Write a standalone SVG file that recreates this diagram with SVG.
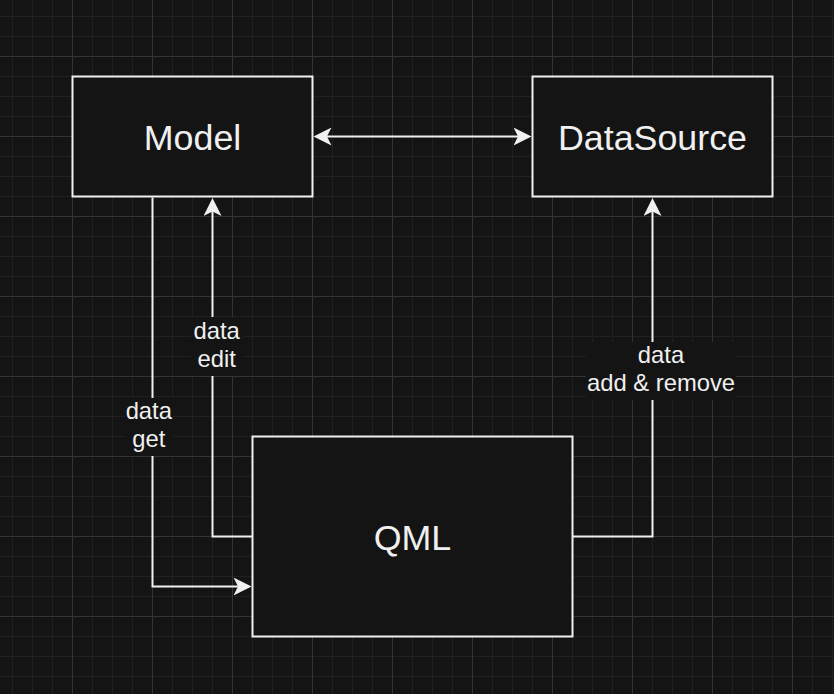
<svg xmlns="http://www.w3.org/2000/svg" width="834" height="694" viewBox="0 0 834 694">
<style>
.node rect{fill:#141414;stroke:#f0f0f0;stroke-width:2}
.node text{fill:#f0f0f0;font-family:"Liberation Sans",Arial,sans-serif;font-size:35.8px;text-anchor:middle}
.conn path{fill:none;stroke:#f0f0f0;stroke-width:2;stroke-linejoin:miter}
.lbl rect{fill:#141414;stroke:none}
.lbl text{fill:#f0f0f0;font-family:"Liberation Sans",Arial,sans-serif;font-size:23.8px;text-anchor:middle}
</style>
<defs>
<pattern id="grid" patternUnits="userSpaceOnUse" x="72" y="56" width="80" height="80">
<path d="M20.5,0V80M40.5,0V80M60.5,0V80M0,20.5H80M0,40.5H80M0,60.5H80" stroke="#202020" stroke-width="1" fill="none"/>
<path d="M0.5,0V80M0,0.5H80" stroke="#343434" stroke-width="1" fill="none"/>
</pattern>
<marker id="arr" viewBox="0 -9 18 18" refX="5" refY="0" markerWidth="18" markerHeight="18" markerUnits="userSpaceOnUse" orient="auto-start-reverse">
<path d="M18,0L0,-9L4.5,0L0,9Z" fill="#f0f0f0"/>
</marker>
</defs>
<rect width="834" height="694" fill="#141414"/>
<rect width="834" height="694" fill="url(#grid)"/>
<g id="model" class="node"><rect x="72.5" y="76.5" width="240" height="120"/><text x="192.5" y="149.5">Model</text></g>
<g id="datasource" class="node"><rect x="532.5" y="76.5" width="240" height="120"/><text x="652.5" y="149.5">DataSource</text></g>
<g id="qml" class="node"><rect x="252.5" y="436.5" width="320" height="200"/><text x="412.5" y="549.5">QML</text></g>
<g id="connectors" class="conn">
<path d="M326.5,136.5H518.5" marker-start="url(#arr)" marker-end="url(#arr)"/>
<path d="M152.5,197.5V586.5H238.5" marker-end="url(#arr)"/>
<path d="M252.5,536.5H212.5V211" marker-end="url(#arr)"/>
<path d="M572.5,536.5H652.5V211" marker-end="url(#arr)"/>
<g class="lbl">
<rect x="191" y="317" width="52" height="59"/>
<text x="216.7" y="338.5">data</text><text x="216.7" y="366.5">edit</text>
<rect x="125" y="398" width="48" height="58"/>
<text x="148.8" y="418.7">data</text><text x="148.8" y="447">get</text>
<rect x="586" y="342" width="150" height="58"/>
<text x="661" y="362.9">data</text><text x="661" y="391.3">add &amp; remove</text>
</g>
</g>
</svg>
